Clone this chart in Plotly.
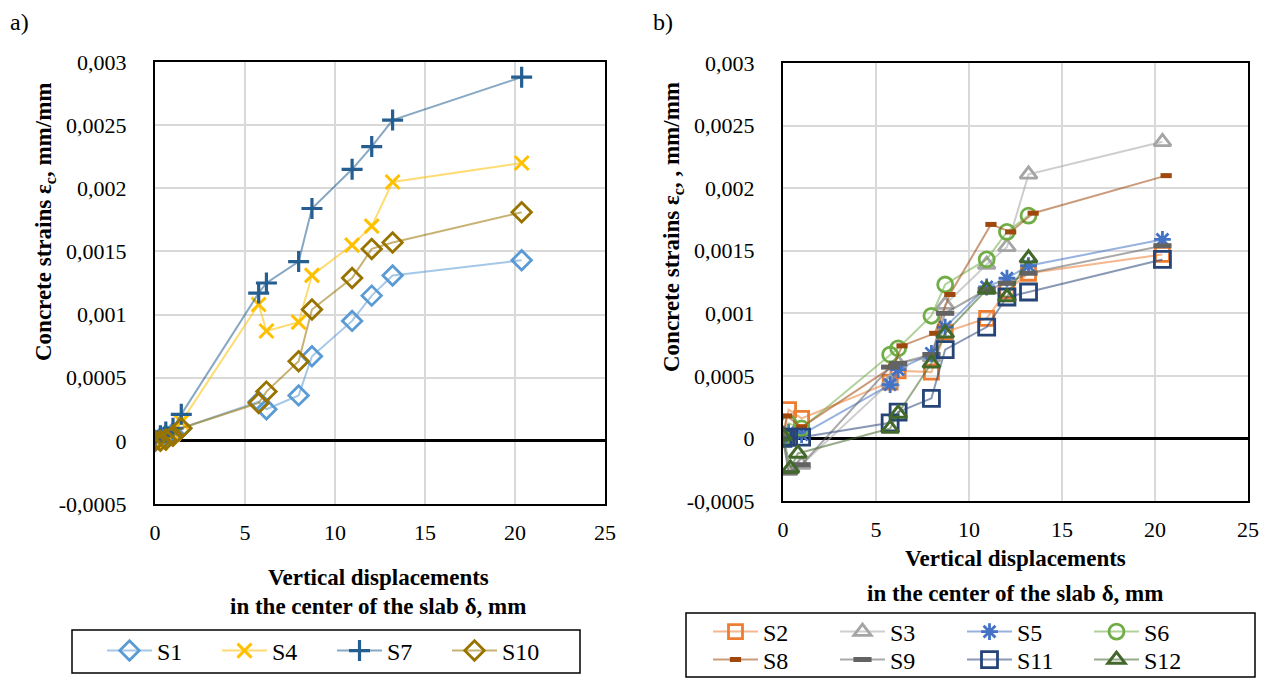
import plotly.graph_objects as go

# ---------------- data ----------------
# a) panel
delta_a = [0, 0.3, 0.6, 1.0, 1.46, 5.76, 6.19, 7.98, 8.72, 10.95, 12.04, 13.2, 20.37]
s1 = [0, 0.00002, 0.00004, 0.00006, 0.0001, 0.00031, 0.00025, 0.00036, 0.00067, 0.00095, 0.00115, 0.00131, 0.00143]
s4 = [0, -0.00002, 0.00002, 0.00005, 0.00015, 0.00108, 0.00087, 0.00094, 0.00131, 0.00155, 0.0017, 0.00205, 0.0022]
s7 = [0, 0.00004, 0.00007, 0.0001, 0.00021, 0.00117, 0.00125, 0.00142, 0.00184, 0.00215, 0.00233, 0.00254, 0.00288]
s10 = [0, 0, 0.00001, 0.00004, 0.0001, 0.0003, 0.00039, 0.00063, 0.00104, 0.00129, 0.00152, 0.00157, 0.00181]

# b) panel
delta_b = [0, 0.3, 1.0, 5.76, 6.19, 7.98, 8.72, 10.95, 12.04, 13.2, 20.4]
s2 = [0, 0.00023, 0.00016, 0.00045, 0.00054, 0.00053, 0.00085, 0.00096, 0.00118, 0.00132, 0.00147]
s3 = [0, -0.00026, -0.00021, 0.00045, 0.0006, 0.00065, 0.00107, 0.00139, 0.00153, 0.00211, 0.00237]
s5 = [0, 0.00005, 0.00003, 0.00043, 0.00055, 0.00068, 0.00089, 0.00121, 0.00128, 0.00138, 0.00159]
delta_s6 = [0, 0.3, 1.0, 5.76, 6.19, 7.98, 8.72, 10.95, 12.04, 13.2]
s6 = [0, 0.00012, 0.00008, 0.00067, 0.00072, 0.00098, 0.00123, 0.00143, 0.00165, 0.00178]
delta_s8 = [0, 0.2, 1.0, 5.95, 6.4, 8.16, 8.97, 11.18, 12.24, 13.45, 20.6]
s8 = [0, 0.00018, 0.00009, 0.00058, 0.00074, 0.00084, 0.00115, 0.00171, 0.00165, 0.0018, 0.0021]
s9 = [0, -0.00027, -0.00021, 0.00057, 0.0006, 0.00067, 0.001, 0.00119, 0.00124, 0.00132, 0.00154]
s11 = [0, 0.00001, 0.00001, 0.000125, 0.00021, 0.00032, 0.00071, 0.00089, 0.00113, 0.00117, 0.00143]
delta_s12 = [0, 0.4, 0.8, 5.76, 6.19, 7.98, 8.72, 10.95, 12.04, 13.2]
s12 = [0.00002, -0.00024, -0.00012, 0.00008, 0.0002, 0.0006, 0.00084, 0.00119, 0.00113, 0.00144]

x_ticks = [0, 5, 10, 15, 20, 25]
y_ticks = [-0.0005, 0, 0.0005, 0.001, 0.0015, 0.002, 0.0025, 0.003]
y_tick_labels = ["-0,0005", "0", "0,0005", "0,001", "0,0015", "0,002", "0,0025", "0,003"]

FONT = "Liberation Serif"
W, H = 1270, 679


def rgba(hexc, a):
    hexc = hexc.lstrip("#")
    r, g, b = int(hexc[0:2], 16), int(hexc[2:4], 16), int(hexc[4:6], 16)
    return f"rgba({r},{g},{b},{a})"


fig = go.Figure()


def add(name, x, y, color, symbol, size, lw, xa, ya, legend, line_alpha=0.55):
    fig.add_trace(go.Scatter(
        x=x, y=y, name=name, mode="lines+markers",
        xaxis=xa, yaxis=ya, legend=legend,
        line=dict(color=rgba(color, line_alpha), width=2),
        marker=dict(symbol=symbol, size=size, color=color,
                    line=dict(color=color, width=lw)),
    ))


# panel a
add("S1", delta_a, s1, "#5B9BD5", "diamond-open", 15, 2.8, "x", "y", "legend")
add("S4", delta_a, s4, "#FFC000", "x-thin-open", 14, 3, "x", "y", "legend")
add("S7", delta_a, s7, "#255E91", "cross-thin-open", 15, 3.2, "x", "y", "legend")
add("S10", delta_a, s10, "#997300", "diamond-open", 15, 2.8, "x", "y", "legend")

# panel b
add("S2", delta_b, s2, "#ED7D31", "square-open", 14, 2.8, "x2", "y2", "legend2")
add("S3", delta_b, s3, "#A5A5A5", "triangle-up-open", 15, 2.8, "x2", "y2", "legend2")
add("S5", delta_b, s5, "#4472C4", "asterisk-open", 14, 2.8, "x2", "y2", "legend2")
add("S6", delta_s6, s6, "#70AD47", "circle-open", 15, 2.8, "x2", "y2", "legend2")
add("S8", delta_s8, s8, "#9E480E", "line-ew-open", 8, 5, "x2", "y2", "legend3")
add("S9", delta_b, s9, "#636363", "line-ew-open", 13, 5, "x2", "y2", "legend3")
add("S11", delta_b, s11, "#264478", "square-open", 16, 2.8, "x2", "y2", "legend3")
add("S12", delta_s12, s12, "#43682B", "triangle-up-open", 15, 3, "x2", "y2", "legend3")


def px_x(p):
    return p / W


def px_y(p):
    return 1 - p / H


tickfont = dict(family=FONT, size=22, color="black")

common_x = dict(range=[0, 25], tickvals=x_ticks, showgrid=True, gridcolor="#D9D9D9", gridwidth=1.5,
                showline=True, linecolor="black", linewidth=2, mirror=True, ticks="",
                zeroline=False, tickfont=tickfont, ticklabelstandoff=8, fixedrange=True,
                automargin=False)
common_y = dict(range=[-0.0005, 0.003], tickvals=y_ticks, ticktext=y_tick_labels, showgrid=True,
                gridcolor="#D9D9D9", gridwidth=1.5, showline=True, linecolor="black", linewidth=2,
                mirror=True, ticks="", zeroline=True, zerolinecolor="black", zerolinewidth=2.5,
                tickfont=tickfont, ticklabelstandoff=22, fixedrange=True, automargin=False)

legend_common = dict(orientation="h", font=dict(family=FONT, size=24, color="black"),
                     bgcolor="rgba(0,0,0,0)", borderwidth=0, itemwidth=45, yanchor="middle",
                     xanchor="left", itemclick=False, itemdoubleclick=False, tracegroupgap=0,
                     xref="container", yref="container")

fig.update_layout(
    width=W, height=H,
    margin=dict(l=0, r=0, t=0, b=0, autoexpand=False),
    plot_bgcolor="white", paper_bgcolor="white",
    font=dict(family=FONT, color="black"),
    xaxis=dict(domain=[px_x(155), px_x(605)], anchor="y", **common_x),
    yaxis=dict(domain=[px_y(504), px_y(62)], anchor="x", **common_y),
    xaxis2=dict(domain=[px_x(783), px_x(1248)], anchor="y2", **common_x),
    yaxis2=dict(domain=[px_y(501), px_y(63)], anchor="x2", **common_y),
    legend=dict(x=px_x(102), y=px_y(651), entrywidth=55, **legend_common),
    legend2=dict(x=px_x(708), y=px_y(632), entrywidth=67, **legend_common),
    legend3=dict(x=px_x(708), y=px_y(660), entrywidth=67, **legend_common),
    showlegend=True,
)

# legend boxes
fig.add_shape(type="rect", xref="paper", yref="paper", x0=px_x(72), x1=px_x(580),
              y0=px_y(673), y1=px_y(630), line=dict(color="black", width=1.5))
fig.add_shape(type="rect", xref="paper", yref="paper", x0=px_x(686), x1=px_x(1255),
              y0=px_y(677), y1=px_y(613), line=dict(color="black", width=1.5))

titlefont = dict(family=FONT, size=23, color="black")
ann = [
    dict(text="a)", x=px_x(8), y=px_y(22), xanchor="left", font=dict(family=FONT, size=24, color="black")),
    dict(text="b)", x=px_x(651), y=px_y(22), xanchor="left", font=dict(family=FONT, size=24, color="black")),
    dict(text="<b>Concrete strains ε<sub>c</sub>, mm/mm</b>", x=px_x(45), y=px_y(222), textangle=-90,
         font=titlefont),
    dict(text="<b>Concrete strains ε<sub>c</sub>, , mm/mm</b>", x=px_x(673), y=px_y(227), textangle=-90,
         font=titlefont),
    dict(text="<b>Vertical displacements</b>", x=px_x(378), y=px_y(577), font=titlefont),
    dict(text="<b>in the center of the slab δ, mm</b>", x=px_x(378), y=px_y(606), font=titlefont),
    dict(text="<b>Vertical displacements</b>", x=px_x(1015), y=px_y(558), font=titlefont),
    dict(text="<b>in the center of the slab δ, mm</b>", x=px_x(1015), y=px_y(593), font=titlefont),
]
for a in ann:
    a.update(xref="paper", yref="paper", showarrow=False, yanchor=a.get("yanchor", "middle"))
    a.setdefault("xanchor", "center")
    fig.add_annotation(**a)

fig.write_html("out.html")
